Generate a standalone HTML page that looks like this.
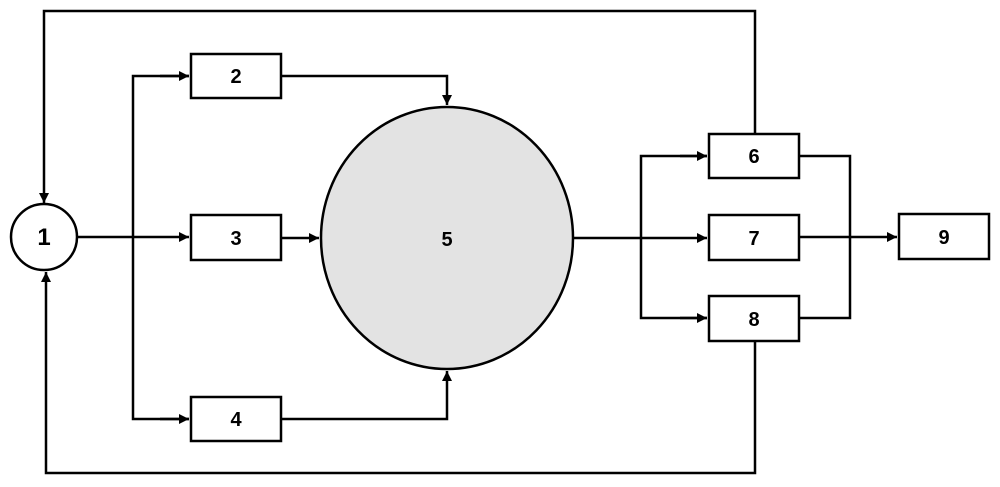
<!DOCTYPE html>
<html><head><style>html,body{margin:0;padding:0;background:#fff;}svg{display:block}</style></head>
<body>
<svg width="1000" height="487" viewBox="0 0 1000 487" xmlns="http://www.w3.org/2000/svg">
<defs>
<marker id="a" viewBox="0 0 10 10" refX="10" refY="5" markerWidth="4" markerHeight="4" orient="auto" markerUnits="strokeWidth"><path d="M0,0 L10,5 L0,10 z" fill="#000"/></marker>
</defs>
<g stroke="#000" stroke-width="2.5" fill="none">
<!-- top feedback -->
<polyline points="755,134 755,11 44,11 44,203" marker-end="url(#a)"/>
<!-- bottom feedback -->
<polyline points="755,341 755,473 46,473 46,272" marker-end="url(#a)"/>
<!-- circle to 3 -->
<line x1="77" y1="237" x2="189" y2="237" marker-end="url(#a)"/>
<polyline points="189,76 133,76 133,419 189,419" />
<line x1="160" y1="76" x2="189" y2="76" marker-end="url(#a)"/>
<line x1="160" y1="419" x2="189" y2="419" marker-end="url(#a)"/>
<!-- 2 to 5 -->
<polyline points="281,76 447,76 447,105" marker-end="url(#a)"/>
<polyline points="281,419 447,419 447,371" marker-end="url(#a)"/>
<line x1="281" y1="238" x2="319" y2="238" marker-end="url(#a)"/>
<!-- 5 to 6/7/8 -->
<line x1="573" y1="238" x2="707" y2="238" marker-end="url(#a)"/>
<polyline points="707,156 641,156 641,318 707,318"/>
<line x1="680" y1="156" x2="707" y2="156" marker-end="url(#a)"/>
<line x1="680" y1="318" x2="707" y2="318" marker-end="url(#a)"/>
<polyline points="799,156 850,156 850,318 799,318"/>
<line x1="799" y1="237" x2="897" y2="237" marker-end="url(#a)"/>
</g>
<g stroke="#000" stroke-width="2.5" fill="#fff">
<circle cx="44" cy="237" r="33"/>
<rect x="191" y="54" width="90" height="44"/>
<rect x="191" y="215" width="90" height="45"/>
<rect x="191" y="397" width="90" height="44"/>
<ellipse cx="447" cy="238" rx="126" ry="131" fill="#e3e3e3"/>
<rect x="709" y="134" width="90" height="44"/>
<rect x="709" y="215" width="90" height="45"/>
<rect x="709" y="296" width="90" height="45"/>
<rect x="899" y="214" width="90" height="45"/>
</g>
<g font-family="Liberation Sans, sans-serif" font-weight="bold" font-size="20" text-anchor="middle" fill="#000">
<text x="44" y="245" font-size="24">1</text>
<text x="236" y="83">2</text>
<text x="236" y="245">3</text>
<text x="236" y="426">4</text>
<text x="447" y="246">5</text>
<text x="754" y="163">6</text>
<text x="754" y="245">7</text>
<text x="754" y="326">8</text>
<text x="944" y="244">9</text>
</g>
</svg>
</body></html>
